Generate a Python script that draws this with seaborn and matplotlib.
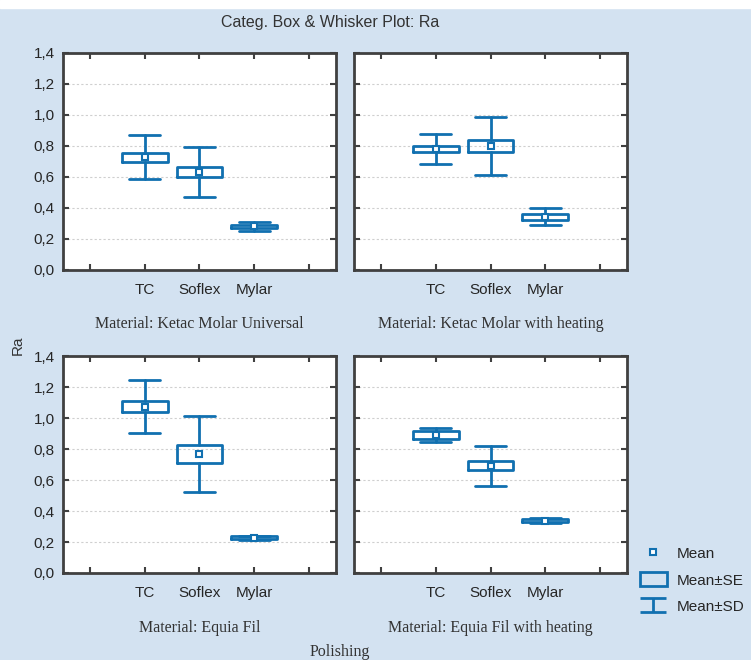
import numpy as np
import pandas as pd
import matplotlib
matplotlib.use("Agg")
import matplotlib.pyplot as plt
import seaborn as sns
from matplotlib.lines import Line2D
from matplotlib.patches import Rectangle
from matplotlib.path import Path

# Ra values (mean, standard error, standard deviation)
materials = ["Ketac Molar Universal", "Ketac Molar with heating",
             "Equia Fil", "Equia Fil with heating"]
polishing = ["TC", "Soflex", "Mylar"]

mean_ra = [[0.727, 0.631, 0.279],
           [0.780, 0.799, 0.341],
           [1.075, 0.769, 0.229],
           [0.892, 0.693, 0.338]]
se_ra = [[0.030, 0.032, 0.012],
         [0.019, 0.041, 0.018],
         [0.035, 0.056, 0.008],
         [0.026, 0.030, 0.011]]
sd_ra = [[0.141, 0.161, 0.027],
         [0.094, 0.187, 0.055],
         [0.173, 0.244, 0.013],
         [0.048, 0.130, 0.018]]

y_ticks = [0.0, 0.2, 0.4, 0.6, 0.8, 1.0, 1.2, 1.4]
x_slots = ["", "TC", "Soflex", "Mylar", ""]

BLUE = "#1170b0"
BG = "#d3e2f1"
SANS = ["Liberation Sans", "DejaVu Sans"]
SERIF = ["Liberation Serif", "DejaVu Serif"]

rows = []
for m, mat in enumerate(materials):
    for p, pol in enumerate(polishing):
        rows.append({"material": mat, "polishing": pol,
                     "mean": mean_ra[m][p], "se": se_ra[m][p], "sd": sd_ra[m][p]})
df = pd.DataFrame(rows)


def draw_boxes(data, **kwargs):
    ax = plt.gca()
    stats = []
    for _, r in data.iterrows():
        stats.append(dict(med=r["mean"], q1=r["mean"] - r["se"], q3=r["mean"] + r["se"],
                          whislo=r["mean"] - r["sd"], whishi=r["mean"] + r["sd"],
                          mean=r["mean"], fliers=[], label=r["polishing"]))
    pos = [x_slots.index(p) for p in data["polishing"]]
    ax.bxp(stats, positions=pos, widths=0.83, capwidths=0.57,
           showmeans=True, manage_ticks=False,
           boxprops=dict(color=BLUE, linewidth=2),
           whiskerprops=dict(color=BLUE, linewidth=2),
           capprops=dict(color=BLUE, linewidth=2),
           medianprops=dict(linewidth=0),
           meanprops=dict(marker="s", markersize=4, markerfacecolor="white",
                          markeredgecolor=BLUE, markeredgewidth=1.5), zorder=3)


sns.set_theme(style="white")
plt.rcParams["font.family"] = SANS

g = sns.FacetGrid(df, col="material", col_wrap=2, col_order=materials,
                  sharex=True, sharey=True, height=3, aspect=1)
g.map_dataframe(draw_boxes)
fig = g.figure
fig.set_size_inches(7.51, 6.6)
fig.patch.set_facecolor(BG)
fig.subplots_adjust(left=63 / 751, right=627 / 751, top=1 - 53 / 660,
                    bottom=1 - 573 / 660, wspace=0.066, hspace=0.40)

for i, (ax, mat) in enumerate(zip(g.axes.flat, materials)):
    ax.set_title("")
    ax.set_facecolor("white")
    ax.set_xlim(-0.5, 4.5)
    ax.set_ylim(0, 1.4)
    ax.set_xticks(range(len(x_slots)))
    ax.set_xticklabels(x_slots, fontsize=11)
    ax.set_yticks(y_ticks)
    ax.set_yticklabels([f"{v:.1f}".replace(".", ",") for v in y_ticks], fontsize=11)
    ax.tick_params(axis="both", direction="in", length=4, width=1.5, color="#404040",
                   top=True, right=True, bottom=True, left=True,
                   labelbottom=True, labelleft=(i % 2 == 0))
    ax.tick_params(axis="x", pad=9.5)
    ax.tick_params(axis="y", pad=6)
    ax.grid(axis="y", linestyle=(0, (2, 2)), color="#cfcfcf", linewidth=0.8, zorder=0)
    for s in ax.spines.values():
        s.set_visible(True)
        s.set_color("#404040")
        s.set_linewidth(2)
    ax.set_xlabel(f"Material: {mat}", family=SERIF, fontsize=11.5, labelpad=14,
                  color="#333333")
    ax.xaxis.label.set_visible(True)
    ax.set_ylabel("")

fig.add_artist(Rectangle((0, 1 - 8 / 660), 1, 8 / 660, transform=fig.transFigure,
                         color="white", zorder=0))
fig.text(330 / 751, 1 - 22 / 660, "Categ. Box & Whisker Plot: Ra", ha="center",
         va="center", fontsize=11.5, color="#333333")
fig.text(18 / 751, 1 - 345 / 660, "Ra", rotation=90, ha="center", va="center",
         fontsize=11, color="#333333")
fig.text(340 / 751, 1 - 652 / 660, "Polishing", ha="center", va="center",
         family=SERIF, fontsize=11.5, color="#333333")

# legend glyphs
ibeam = Path([(-1, 0.52), (1, 0.52), (0, 0.52), (0, -0.52), (-1, -0.52), (1, -0.52)],
             [Path.MOVETO, Path.LINETO, Path.MOVETO, Path.LINETO, Path.MOVETO, Path.LINETO])
handles = [
    Line2D([], [], linestyle="", marker="s", markersize=4, markerfacecolor="white",
           markeredgecolor=BLUE, markeredgewidth=1.5),
    Rectangle((0, 0), 1, 1, facecolor="none", edgecolor=BLUE, linewidth=2),
    Line2D([], [], linestyle="", marker=ibeam, markersize=19, markeredgewidth=2,
           color=BLUE),
]
fig.legend(handles, ["Mean", "Mean\u00b1SE", "Mean\u00b1SD"], loc="upper left",
           bbox_to_anchor=(640 / 751, 1 - 546 / 660), frameon=False, fontsize=11,
           handlelength=1.75, handleheight=1.05, handletextpad=0.65, labelspacing=0.72,
           borderaxespad=0, borderpad=0)

fig.savefig("out.png", dpi=100, facecolor=fig.get_facecolor())
